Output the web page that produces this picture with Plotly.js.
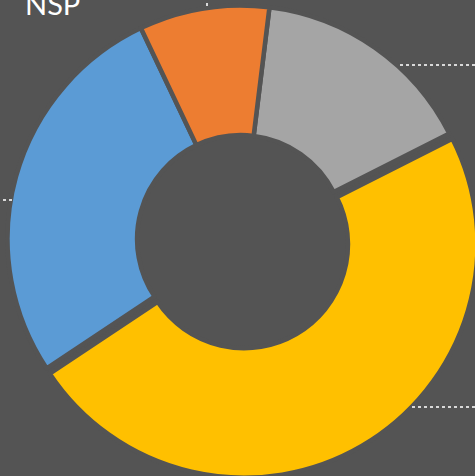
<!DOCTYPE html>
<html>
<head>
<meta charset="utf-8">
<script src="https://cdn.plot.ly/plotly-3.0.1.min.js"></script>
<style>
html,body{margin:0;padding:0;overflow:hidden;background:#545454;width:475px;height:476px;}
#chart{position:absolute;left:-10px;top:-10px;width:520px;height:520px;}
</style>
</head>
<body>
<div id="chart"></div>
<script>
var categories = ["Catégorie 2", "Catégorie 3", "Catégorie 1", "NSP"];
var values = [15.6, 48.1, 27.3, 9.0];
var colors = ["#A5A5A5", "#FFC000", "#5B9BD5", "#ED7D31"];
var pulls = [0, 0.026, 0, 0];

var W = 520, H = 520, OFF = 10;      // div is shifted by OFF px up/left
var cx = 241 + OFF, cy = 239 + OFF;  // pie centre in div pixels
var Rp = 233.5;                       // plotly radius (before border)
var half = Rp * (1 + Math.max.apply(null, pulls));

var trace = {
  type: "pie",
  labels: categories,
  values: values,
  sort: false,
  direction: "clockwise",
  rotation: 7,
  hole: 0.445,
  pull: pulls,
  textinfo: "none",
  hoverinfo: "label+value",
  showlegend: false,
  marker: { colors: colors, line: { color: "#545454", width: 4.5 } },
  domain: {
    x: [(cx - half) / W, (cx + half) / W],
    y: [1 - (cy + half) / H, 1 - (cy - half) / H]
  }
};

var dotLine = { color: "#D9D9D9", width: 2, dash: "dot" };
function px(x){ return (x + OFF) / W; }
function py(y){ return 1 - (y + OFF) / H; }

var layout = {
  width: W, height: H,
  margin: { l: 0, r: 0, t: 0, b: 0 },
  paper_bgcolor: "#545454",
  plot_bgcolor: "#545454",
  shapes: [
    { type: "line", xref: "paper", yref: "paper", x0: px(207), x1: px(207), y0: py(-3), y1: py(8), line: dotLine },
    { type: "line", xref: "paper", yref: "paper", x0: px(400), x1: px(480), y0: py(65), y1: py(65), line: dotLine },
    { type: "line", xref: "paper", yref: "paper", x0: px(-3), x1: px(12), y0: py(200), y1: py(200), line: dotLine },
    { type: "line", xref: "paper", yref: "paper", x0: px(412), x1: px(480), y0: py(407), y1: py(407), line: dotLine }
  ],
  annotations: [
    { text: "NSP", xref: "paper", yref: "paper", x: px(24), y: py(3), xanchor: "left", yanchor: "middle",
      showarrow: false, font: { family: "Lato, 'Open Sans', sans-serif", size: 29, color: "#FFFFFF" }, borderpad: 0 }
  ]
};

Plotly.newPlot("chart", [trace], layout, { displayModeBar: false, staticPlot: true });
</script>
</body>
</html>
